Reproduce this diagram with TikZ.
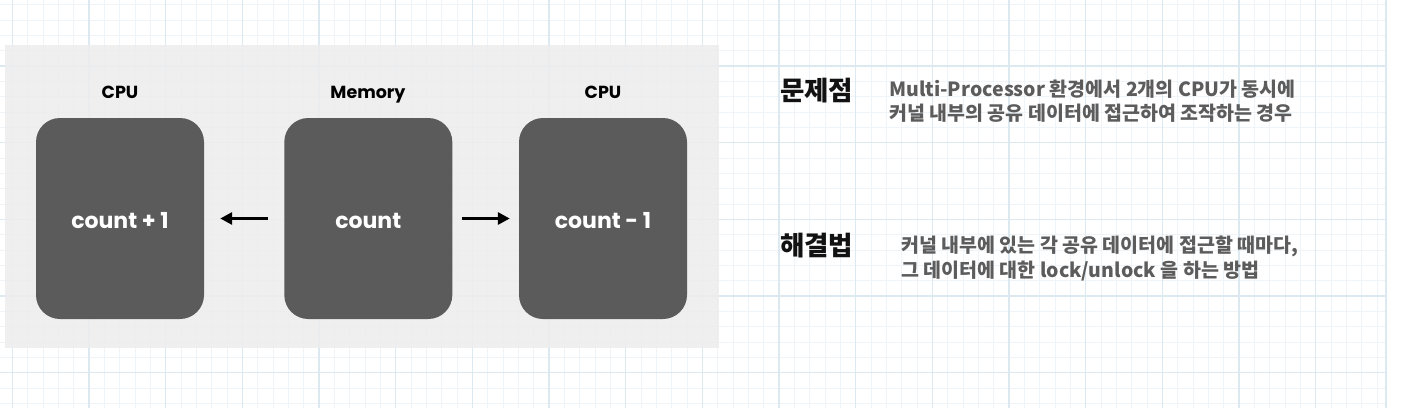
\documentclass[tikz,border=0pt]{standalone}
\usepackage{fontspec}
\setmainfont{Poppins}
\newfontfamily\kr{Noto Sans CJK KR}
\usetikzlibrary{arrows.meta}
\definecolor{gridmajor}{HTML}{DDE9F1}
\definecolor{gridminor}{HTML}{EEF4F8}
\definecolor{panelgray}{HTML}{EDEDED}
\definecolor{boxgray}{HTML}{5B5B5B}
\definecolor{desc}{HTML}{5C5C5C}
\tikzset{
  lab/.style={font=\fontsize{17.5}{20}\selectfont\bfseries, text=black, inner sep=0pt, anchor=base},
  box/.style={fill=boxgray, rounded corners=24pt, minimum width=168pt, minimum height=201pt,
              font=\fontsize{22}{24}\selectfont\bfseries, text=white, inner sep=0pt},
  arr/.style={line width=3pt, -{Triangle[length=12pt,width=12pt]}},
  head/.style={font=\kr\fontsize{26.5}{28}\selectfont\bfseries, text=black!93, anchor=base west, inner sep=0pt},
  dsc/.style={font=\kr\fontsize{19.5}{22}\selectfont\bfseries, text=desc, anchor=base west, inner sep=0pt},
}
\newcommand{\boxtext}[1]{\raisebox{-10pt}[0pt][0pt]{#1}}
\begin{document}
\begin{tikzpicture}[x=1pt,y=-1pt]
\useasboundingbox (0,0) rectangle (1406,408);
\fill[white] (0,0) rectangle (1406,408);
% grid
\foreach \k in {-51,...,39} {
  \draw[gridminor, line width=0.8pt] ({779+\k*15.333},0) -- ({779+\k*15.333},408);
}
\foreach \k in {-4,...,22} {
  \draw[gridminor, line width=0.8pt] (0,{66+\k*15.333}) -- (1387,{66+\k*15.333});
}
\foreach \k in {-10,...,7} {
  \draw[gridmajor, line width=1.2pt] ({779+\k*76.667},0) -- ({779+\k*76.667},408);
}
\draw[gridmajor, line width=1.2pt] (1386,0) -- (1386,408);
\foreach \k in {0,...,4} {
  \draw[gridmajor, line width=1.2pt] (0,{66+\k*76.667}) -- (1387,{66+\k*76.667});
}
% panel
\fill[panelgray, opacity=0.88] (5,45) rectangle (719,348);
% labels
\node[lab] (l1) at (120,98) {CPU};
\node[lab] (l2) at (368,98) {Memory};
\node[lab] (l3) at (603,98) {CPU};
% boxes
\node[box] (b1) at (120,218.5) {\boxtext{count + 1}};
\node[box] (b2) at (368.3,218.5) {\boxtext{count}};
\node[box] (b3) at (603,218.5) {\boxtext{count - 1}};
% arrows
\draw[arr, shorten <=16pt, shorten >=16pt] (b2.west) -- (b1.east);
\draw[arr, shorten <=9pt, shorten >=9pt] (b2.east) -- (b3.west);
% texts
\node[head] (h1) at (780,100) {문제점};
\node[dsc] (d1) at (889,96.5) {Multi-Processor 환경에서 2개의 CPU가 동시에};
\node[dsc] (d2) at (889,120.5) {커널 내부의 공유 데이터에 접근하여 조작하는 경우};
\node[head] (h2) at (780,255) {해결법};
\node[dsc] (d3) at (901,252.5) {커널 내부에 있는 각 공유 데이터에 접근할 때마다,};
\node[dsc] (d4) at (901,277.5) {그 데이터에 대한 lock/unlock 을 하는 방법};
\end{tikzpicture}
\end{document}
